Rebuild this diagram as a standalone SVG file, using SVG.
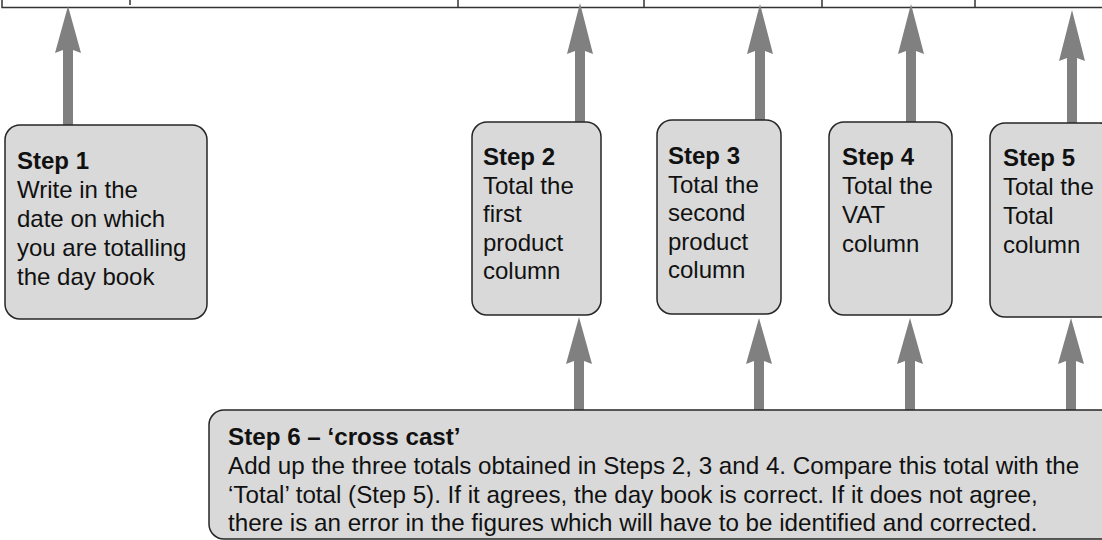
<svg xmlns="http://www.w3.org/2000/svg" width="1102" height="540" viewBox="0 0 1102 540">
<style>
.box{fill:#d9d9d9;stroke:#262626;stroke-width:1.5}
.tbl{fill:none;stroke:#333;stroke-width:1.5}
.arr{fill:#808080;stroke:none}
text{font-family:"Liberation Sans",Arial,sans-serif;font-size:24px;fill:#111}
.b{font-weight:bold}
.wide{font-size:24.2px}
</style>
<rect width="1102" height="540" fill="#fff"/>
<g id="table">
<path class="tbl" d="M2,-2 V7.5 H1104 M130,0 V5 M458,0 V7.5 M644,0 V7.5 M822,0 V7.5 M975,0 V7.5"/>
</g>
<g id="connectors">
<path class="arr" d="M68,6 L81,53 L73,50 L73,130 L63,130 L63,50 L55,53 Z"/>
<path class="arr" d="M580,3 L593,54 L585,51 L585,126 L575,126 L575,51 L567,54 Z"/>
<path class="arr" d="M760,4 L773,54 L765,51 L765,126 L755,126 L755,51 L747,54 Z"/>
<path class="arr" d="M911,4 L924,54 L916,51 L916,126 L906,126 L906,51 L898,54 Z"/>
<path class="arr" d="M1072,10 L1085,61 L1077,58 L1077,126 L1067,126 L1067,58 L1059,61 Z"/>
<path class="arr" d="M579,317 L592,364 L584,361 L584,414 L574,414 L574,361 L566,364 Z"/>
<path class="arr" d="M759,318 L772,364 L764,361 L764,414 L754,414 L754,361 L746,364 Z"/>
<path class="arr" d="M910,318 L923,364 L915,361 L915,414 L905,414 L905,361 L897,364 Z"/>
<path class="arr" d="M1071,318 L1084,364 L1076,361 L1076,414 L1066,414 L1066,361 L1058,364 Z"/>
</g>
<g id="step1">
<rect class="box" x="5" y="125" width="202" height="194" rx="15"/>
<text x="17" y="169"><tspan class="b">Step 1</tspan><tspan x="17" y="197.5">Write in the</tspan><tspan x="17" y="226.5">date on which</tspan><tspan x="17" y="255.5">you are totalling</tspan><tspan x="17" y="284.5">the day book</tspan></text>
</g>
<g id="step2">
<rect class="box" x="472" y="122" width="129" height="193" rx="15"/>
<text x="483" y="164.5"><tspan class="b">Step 2</tspan><tspan x="483" y="193.5">Total the</tspan><tspan x="483" y="222">first</tspan><tspan x="483" y="250.5">product</tspan><tspan x="483" y="279">column</tspan></text>
</g>
<g id="step3">
<rect class="box" x="657" y="120" width="124" height="194" rx="15"/>
<text x="668" y="163.5"><tspan class="b">Step 3</tspan><tspan x="668" y="192.5">Total the</tspan><tspan x="668" y="221">second</tspan><tspan x="668" y="249.5">product</tspan><tspan x="668" y="278">column</tspan></text>
</g>
<g id="step4">
<rect class="box" x="829" y="122" width="123" height="193" rx="15"/>
<text x="842" y="165"><tspan class="b">Step 4</tspan><tspan x="842" y="194">Total the</tspan><tspan x="842" y="222.5">VAT</tspan><tspan x="842" y="251.5">column</tspan></text>
</g>
<g id="step5">
<rect class="box" x="990" y="123" width="125" height="194" rx="15"/>
<text x="1003" y="166"><tspan class="b">Step 5</tspan><tspan x="1003" y="195">Total the</tspan><tspan x="1003" y="224">Total</tspan><tspan x="1003" y="253">column</tspan></text>
</g>
<g id="step6">
<rect class="box" x="209" y="410" width="910" height="129" rx="15"/>
<text class="wide" x="228" y="445"><tspan class="b">Step 6 – ‘cross cast’</tspan><tspan x="228" y="474">Add up the three totals obtained in Steps 2, 3 and 4. Compare this total with the</tspan><tspan x="228" y="502.5">‘Total’ total (Step 5). If it agrees, the day book is correct. If it does not agree,</tspan><tspan x="228" y="531">there is an error in the figures which will have to be identified and corrected.</tspan></text>
</g>
</svg>
